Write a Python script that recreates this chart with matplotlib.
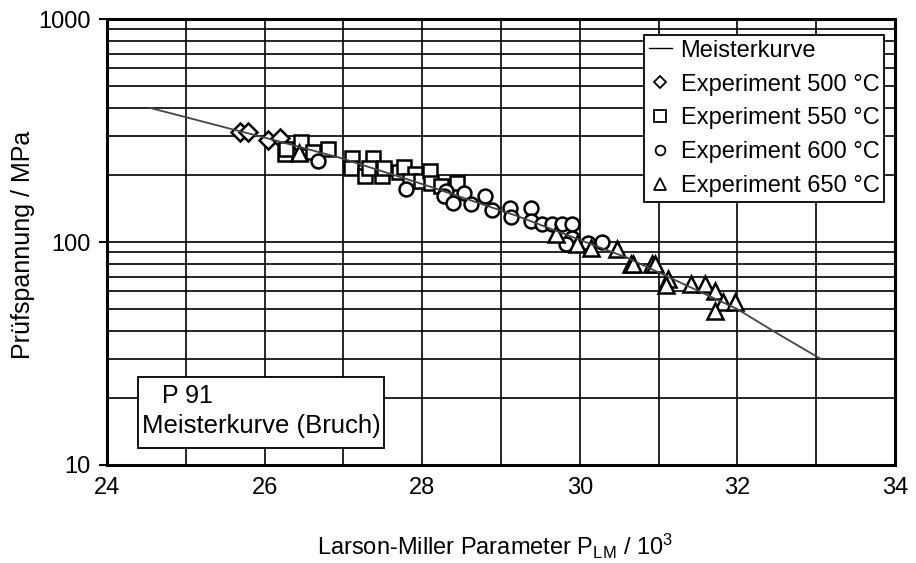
import matplotlib.pyplot as plt
from matplotlib.lines import Line2D
from matplotlib.patches import Rectangle
from matplotlib.ticker import FixedLocator, LogLocator, NullFormatter

plt.rcParams['font.family'] = ['Liberation Sans', 'DejaVu Sans']
plt.rcParams['font.size'] = 17
plt.rcParams['mathtext.default'] = 'regular'

# master curve (Meisterkurve)
master_lmp = [24.55, 25.0, 25.55, 26.0, 26.95, 28.0, 29.2, 30.6, 32.0, 32.5, 33.05]
master_stress = [399, 363, 323, 294, 239, 182, 131, 85, 50, 39, 30]

# experiments, Larson-Miller parameter / 10^3 and stress / MPa
lmp_500 = [25.69, 25.79, 26.04, 26.20]
stress_500 = [313, 313, 288, 292]

lmp_550 = [26.26, 26.27, 26.46, 26.61, 26.80, 27.11, 27.37, 27.10, 27.27, 27.33,
           27.49, 27.51, 27.70, 27.77, 27.91, 27.84, 27.99, 28.10, 28.11, 28.24,
           28.44]
stress_550 = [249, 262, 280, 254, 260, 237, 239, 215, 198, 215,
              198, 215, 205, 218, 202, 188, 188, 209, 183, 179,
              184]

lmp_600 = [26.68, 27.80, 28.30, 28.28, 28.39, 28.53, 28.62, 28.80, 28.89, 29.11,
           29.13, 29.38, 29.38, 29.52, 29.65, 29.77, 29.90, 29.90, 29.82, 30.11,
           30.28]
stress_600 = [232, 172, 170, 160, 150, 166, 148, 161, 139, 142,
              129, 142, 124, 120, 120, 120, 120, 104, 98, 99,
              100]

lmp_650 = [26.44, 29.70, 29.96, 30.14, 30.47, 30.65, 30.68, 30.91, 30.96, 31.12,
           31.10, 31.41, 31.59, 31.72, 31.82, 31.97, 31.72]
stress_650 = [252, 109, 98, 94, 93, 80, 80, 80, 80, 68,
              64, 65, 65, 60, 54, 54, 49]

fig = plt.figure(figsize=(9.16, 5.63), dpi=100)
ax = fig.add_axes([0.1168, 0.1741, 0.8603, 0.7921])

mk = dict(linestyle='none', markerfacecolor='white', markeredgecolor='black',
          markeredgewidth=1.8, zorder=3)
ax.plot(lmp_500, stress_500, marker='D', markersize=9, **mk)
ax.plot(lmp_550, stress_550, marker='s', markersize=10.5, **mk)
ax.plot(lmp_600, stress_600, marker='o', markersize=10, **mk)
ax.plot(lmp_650, stress_650, marker='^', markersize=11.5, **mk)
ax.plot(master_lmp, master_stress, color='#444444', lw=1.3, zorder=4)

ax.set_yscale('log')
ax.set_ylim(10, 1000)
ax.set_xlim(24, 34)
ax.set_yticks([10, 100, 1000])
ax.set_yticklabels(['10', '100', '1000'])
ax.yaxis.set_minor_locator(LogLocator(subs=range(2, 10)))
ax.yaxis.set_minor_formatter(NullFormatter())
ax.set_xticks(range(24, 35, 2))
ax.xaxis.set_minor_locator(FixedLocator(range(25, 34, 2)))

ax.set_axisbelow(True)
ax.grid(True, which='both', color='black', lw=1.2)
ax.tick_params(axis='y', which='major', direction='out', length=6, width=1.5, pad=6)
ax.tick_params(axis='x', which='major', length=0, pad=9)
ax.tick_params(which='minor', length=0)
for s in ax.spines.values():
    s.set_linewidth(2.2)

fig.text(495 / 916, 1 - 546 / 563, r'Larson-Miller Parameter P$_{LM}$ / 10$^{3}$',
         ha='center', va='center')
fig.text(23 / 916, 1 - 245 / 563, 'Prüfspannung / MPa', rotation=90,
         ha='center', va='center', fontsize=18)

handles = [
    Line2D([], [], color='black', lw=1),
    Line2D([], [], marker='D', markersize=6, linestyle='none', mfc='white', mec='black', mew=1.3),
    Line2D([], [], marker='s', markersize=8, linestyle='none', mfc='white', mec='black', mew=1.3),
    Line2D([], [], marker='o', markersize=7, linestyle='none', mfc='white', mec='black', mew=1.3),
    Line2D([], [], marker='^', markersize=8, linestyle='none', mfc='white', mec='black', mew=1.3),
]
labels = ['Meisterkurve', 'Experiment 500 °C', 'Experiment 550 °C',
          'Experiment 600 °C', 'Experiment 650 °C']
leg = ax.legend(handles, labels, loc='upper right', bbox_to_anchor=(884 / 916, 1 - 35 / 563),
                bbox_transform=fig.transFigure, borderaxespad=0, fancybox=False,
                framealpha=1, edgecolor='black', handlelength=1.0, handletextpad=0.35,
                labelspacing=0.5, borderpad=0.2, fontsize=17)
leg.get_frame().set_linewidth(1.3)
leg.set_zorder(6)

box = Rectangle((138 / 916, 1 - 448 / 563), 246 / 916, 71 / 563, transform=fig.transFigure,
                facecolor='white', edgecolor='black', lw=1.3, zorder=5)
fig.patches.append(box)
fig.text(162 / 916, 1 - 396 / 563, 'P 91', ha='left', va='center', zorder=6, fontsize=18)
fig.text(142 / 916, 1 - 426 / 563, 'Meisterkurve (Bruch)', ha='left', va='center',
         zorder=6, fontsize=18.5)

fig.savefig('out.png', dpi=100)
